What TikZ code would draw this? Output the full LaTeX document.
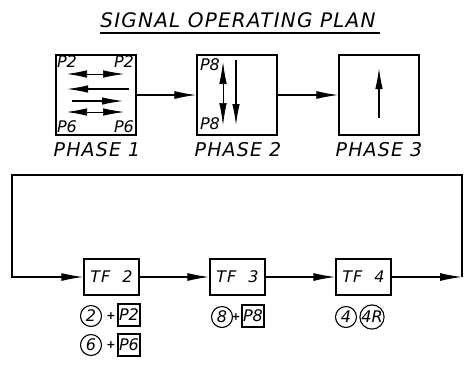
\documentclass[tikz,border=0pt]{standalone}
\usepackage{fontspec}
\setmainfont{DejaVu Sans}
\usetikzlibrary{arrows.meta,calc}
\begin{document}
\begin{tikzpicture}[x=1pt,y=-1pt,
  box/.style={draw,line width=1.4pt,minimum width=80pt,minimum height=80pt,inner sep=0pt},
  tfbox/.style={draw,line width=1.4pt,minimum width=55pt,minimum height=36pt,inner sep=0pt,font=\fontsize{16}{16}\selectfont\itshape\addfontfeature{LetterSpace=6}},
  ttl/.style={inner sep=0pt,font=\fontsize{20}{20}\selectfont\itshape\addfontfeature{LetterSpace=6}},
  lbl/.style={inner sep=0pt,font=\fontsize{19}{19}\selectfont\itshape\addfontfeature{LetterSpace=6}},
  plbl/.style={inner sep=0pt,font=\fontsize{16}{16}\selectfont\itshape},
  circ/.style={draw,circle,line width=1.1pt,minimum size=21pt,inner sep=0pt,font=\fontsize{16}{16}\selectfont\itshape},
  sq/.style={draw,line width=1.1pt,minimum size=22pt,inner sep=0pt,font=\fontsize{16}{16}\selectfont\itshape},
  plus/.style={inner sep=0pt,font=\fontsize{11}{11}\selectfont\bfseries},
  conn/.style={line width=1.2pt,-{Latex[length=22pt,width=8pt]}},
  inar/.style={line width=1.1pt,-{Latex[length=21pt,width=7.5pt]}},
  dbl/.style={line width=0.7pt,{Latex[length=20pt,width=7.5pt]}-{Latex[length=21pt,width=7.5pt]}},
  vdbl/.style={line width=0.7pt,{Latex[length=22pt,width=7.5pt]}-{Latex[length=22pt,width=7.5pt]}}]
\useasboundingbox (0,0) rectangle (476,368);

% title
\node[ttl] (title) at (238,20) {SIGNAL OPERATING PLAN};
\coordinate (ul1) at (100,33);
\coordinate (ul2) at (380,33);
\draw[line width=1.1pt] (ul1) -- (ul2);

% phase boxes
\node[box] (p1) at (96,95) {};
\node[box] (p2) at (237,95) {};
\node[box] (p3) at (379,95) {};
\node[lbl] (l1) at (97,150) {PHASE 1};
\node[lbl] (l2) at (238,150) {PHASE 2};
\node[lbl] (l3) at (379,150) {PHASE 3};
\draw[conn] (p1.east) -- (p2.west);
\draw[conn] (p2.east) -- (p3.west);

% phase 1 contents
\node[plbl] (a1) at (67,62) {P2};
\node[plbl] (a2) at (124,62) {P2};
\node[plbl] (a3) at (67,127) {P6};
\node[plbl] (a4) at (124,127) {P6};
\draw[dbl] (67,74) -- (124,74);
\draw[inar] (129,89) -- (67,89);
\draw[inar] (72,101) -- (123,101);
\draw[dbl] (67,112) -- (124,112);

% phase 2 contents
\node[plbl] (b1) at (210,65) {P8};
\node[plbl] (b2) at (210,124) {P8};
\draw[vdbl] (223,62) -- (223,125);
\draw[inar] (236,60) -- (236,125);

% phase 3 contents
\draw[inar] (379,118) -- (379,68);

% timing functions
\node[tfbox] (t2) at (111.5,277) {TF\ \ 2};
\node[tfbox] (t3) at (237.5,277) {TF\ \ 3};
\node[tfbox] (t4) at (363.5,277) {TF\ \ 4};
\coordinate (lb) at (12,277);
\coordinate (lt) at (12,175);
\coordinate (rt) at (462,175);
\coordinate (rb) at (462,277);
\draw[conn] (t2.east) -- (t3.west);
\draw[conn] (t3.east) -- (t4.west);
\draw[conn] (t4.east) -- (rb);
\draw[conn] (rb) -- (rt) -- (lt) -- (lb) -- (t2.west);

% indications
\node[circ] (c2) at (91,316) {2};
\node[plus] (x2) at (111,316) {+};
\node[sq] (s2) at (129,315) {P2};
\node[circ] (c6) at (91,345) {6};
\node[plus] (x6) at (111,345) {+};
\node[sq] (s6) at (129,345) {P6};
\node[circ] (c8) at (222,317) {8};
\node[plus] (x8) at (236,317) {+};
\node[sq] (s8) at (253,316) {P8};
\node[circ] (c4) at (346,317) {4};
\node[circ] (c4r) at (372,317) {4R};
\end{tikzpicture}
\end{document}
